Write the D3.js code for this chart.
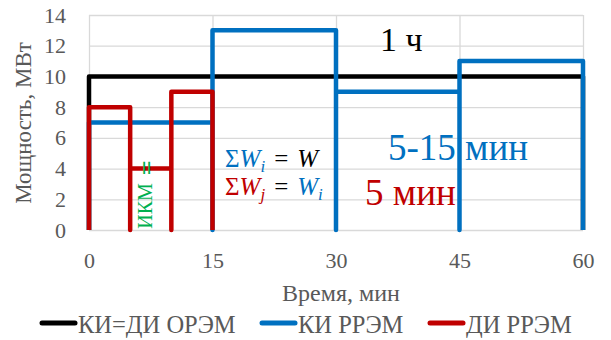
<!DOCTYPE html>
<html>
<head>
<meta charset="utf-8">
<script src="https://cdn.jsdelivr.net/npm/d3@7"></script>
<style>
  body { margin: 0; background: #fff; }
  svg { display: block; font-family: "Liberation Serif", "Times New Roman", serif; }
</style>
</head>
<body>
<svg id="chart" width="611" height="340"></svg>
<script>
// data, minutes vs MW
const timeTicks = [0, 15, 30, 45, 60];
const powerTicks = [0, 2, 4, 6, 8, 10, 12, 14];

// ORЭМ hourly interval (black)
const oremStarts = [0];
const oremLength = 60;
const oremValues = [10];

// КИ РРЭМ 15-min intervals (blue)
const kiStarts = [0, 15, 30, 45];
const kiLength = 15;
const kiValues = [7, 13, 9, 11];

// ДИ РРЭМ 5-min intervals (red)
const diStarts = [0, 5, 10];
const diLength = 5;
const diValues = [8, 4, 9];

const legendLabels = ['КИ=ДИ ОРЭМ', 'КИ РРЭМ', 'ДИ РРЭМ'];
const colors = { black: '#000000', blue: '#0070c0', red: '#c00000', green: '#00b050', gray: '#595959', grid: '#d9d9d9' };

const svg = d3.select('#chart');
const plot = { left: 89, right: 583, top: 15, bottom: 230 };

const x = d3.scaleLinear().domain([0, 60]).range([plot.left, plot.right]);
const y = d3.scaleLinear().domain([0, 14]).range([plot.bottom, plot.top]);

// gridlines + tick labels
let yAxis = svg.append('g')
  .attr('transform', `translate(${plot.left},0)`)
  .call(d3.axisLeft(y).tickValues(powerTicks).tickSize(-(plot.right - plot.left)).tickPadding(23));
let xAxis = svg.append('g')
  .attr('transform', `translate(0,${plot.bottom})`)
  .call(d3.axisBottom(x).tickValues(timeTicks).tickSize(-(plot.bottom - plot.top)).tickPadding(22));

[yAxis, xAxis].forEach(g => {
  g.attr('font-family', null);
  g.select('.domain').remove();
  g.selectAll('line').attr('stroke', colors.grid).attr('stroke-width', 1.3);
  g.selectAll('text').attr('fill', colors.gray).attr('font-size', 22);
});

// step rectangles
function stepPoints(starts, len, values) {
  let pts = [];
  starts.forEach((s, i) => {
    pts.push([s, 0], [s, values[i]], [s + len, values[i]], [s + len, 0]);
  });
  return pts;
}
let line = d3.line().x(d => x(d[0])).y(d => y(d[1]));

let series = [
  { pts: stepPoints(oremStarts, oremLength, oremValues), color: colors.black },
  { pts: stepPoints(kiStarts, kiLength, kiValues), color: colors.blue },
  { pts: stepPoints(diStarts, diLength, diValues), color: colors.red }
];
svg.append('g').selectAll('path')
  .data(series)
  .enter()
  .append('path')
  .attr('d', d => line(d.pts))
  .attr('fill', 'none')
  .attr('stroke', d => d.color)
  .attr('stroke-width', 4.5)
  .attr('stroke-linejoin', 'round');

// annotations
svg.append('text').attr('x', 380).attr('y', 51).attr('font-size', 34).attr('fill', colors.black).text('1 ч');
svg.append('text').attr('x', 388).attr('y', 160).attr('font-size', 37).attr('fill', colors.blue).text('5-15 мин');
svg.append('text').attr('x', 365).attr('y', 205).attr('font-size', 37).attr('fill', colors.red).text('5 мин');

svg.append('text')
  .attr('transform', 'translate(152,206) rotate(-90)')
  .attr('text-anchor', 'middle')
  .attr('font-size', 20)
  .attr('fill', colors.green)
  .text('ИКМ');
svg.append('text')
  .attr('transform', 'translate(146,168) rotate(90)')
  .attr('text-anchor', 'middle')
  .attr('dominant-baseline', 'central')
  .attr('font-size', 26)
  .attr('font-weight', 'bold')
  .attr('fill', colors.green)
  .text('=');

// formulas
function formula(yPos, parts) {
  let t = svg.append('text').attr('x', 225).attr('y', yPos).attr('font-size', 25);
  parts.forEach(p => {
    let s = t.append('tspan').text(p.t).attr('fill', p.c);
    if (p.i) s.attr('font-style', 'italic');
    if (p.sub) s.attr('font-size', 17).attr('dy', 5);
    if (p.dy) s.attr('dy', p.dy);
    if (p.dx) s.attr('dx', p.dx);
  });
}
formula(167, [
  { t: 'Σ', c: colors.blue },
  { t: 'W', c: colors.blue, i: true },
  { t: 'i', c: colors.blue, i: true, sub: true },
  { t: '=', c: colors.black, dy: -5, dx: 9 },
  { t: 'W', c: colors.black, i: true, dx: 9 }
]);
formula(195, [
  { t: 'Σ', c: colors.red },
  { t: 'W', c: colors.red, i: true },
  { t: 'j', c: colors.red, i: true, sub: true },
  { t: '=', c: colors.black, dy: -5, dx: 9 },
  { t: 'W', c: colors.blue, i: true, dx: 9 },
  { t: 'i', c: colors.blue, i: true, sub: true }
]);

// axis titles
svg.append('text')
  .attr('transform', 'translate(31,123) rotate(-90)')
  .attr('text-anchor', 'middle')
  .attr('font-size', 23)
  .attr('fill', colors.gray)
  .text('Мощность, МВт');
svg.append('text')
  .attr('x', 341).attr('y', 301)
  .attr('text-anchor', 'middle')
  .attr('font-size', 24)
  .attr('fill', colors.gray)
  .text('Время, мин');

// legend
const legendX = [40, 260, 428];
const legendColors = [colors.black, colors.blue, colors.red];
let lg = svg.append('g').selectAll('g')
  .data(legendLabels)
  .enter()
  .append('g')
  .attr('transform', (d, i) => `translate(${legendX[i]},0)`);
lg.append('line')
  .attr('x1', 2).attr('x2', 35).attr('y1', 323).attr('y2', 323)
  .attr('stroke', (d, i) => legendColors[i])
  .attr('stroke-width', 5)
  .attr('stroke-linecap', 'round');
lg.append('text')
  .attr('x', 38).attr('y', 333)
  .attr('font-size', 24.5)
  .attr('fill', colors.gray)
  .text(d => d);
</script>
</body>
</html>
